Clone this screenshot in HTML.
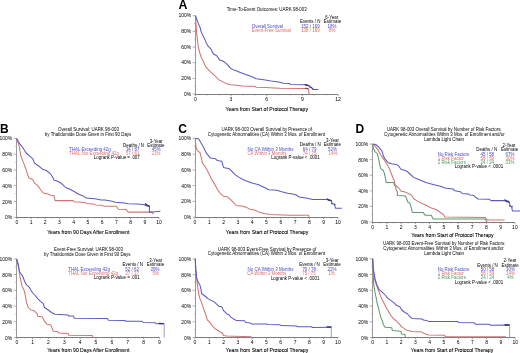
<!DOCTYPE html>
<html><head><meta charset="utf-8"><title>UARK 98-003 Kaplan-Meier curves</title>
<style>
html,body{margin:0;padding:0;background:#fff;width:520px;height:353px;overflow:hidden;}
#wrap{position:absolute;left:0;top:0;width:520px;height:353px;will-change:transform;background:#fff;filter:blur(0.3px);}
svg{display:block;font-family:"Liberation Sans",sans-serif;}
</style></head><body>
<div id="wrap"><svg width="520" height="353" viewBox="0 0 520 353">
<rect width="520" height="353" fill="#fff"/>
<text x="178.6" y="9" font-size="12.3" font-weight="bold" fill="#000">A</text>
<text x="0.0" y="133" font-size="12" font-weight="bold" fill="#000">B</text>
<text x="178.2" y="133" font-size="12" font-weight="bold" fill="#000">C</text>
<text x="355.4" y="133" font-size="12" font-weight="bold" fill="#000">D</text>
<line x1="195.50" y1="15.70" x2="195.50" y2="95.00" stroke="#9a9a9a" stroke-width="1"/>
<line x1="192.70" y1="94.00" x2="195.50" y2="94.00" stroke="#9a9a9a" stroke-width="0.8"/>
<text x="191.30" y="95.50" font-size="5.0" fill="#000" text-anchor="end">0%</text>
<line x1="194.10" y1="86.17" x2="195.50" y2="86.17" stroke="#9a9a9a" stroke-width="0.6"/>
<line x1="192.70" y1="78.34" x2="195.50" y2="78.34" stroke="#9a9a9a" stroke-width="0.8"/>
<text x="191.30" y="79.84" font-size="5.0" fill="#000" text-anchor="end">20%</text>
<line x1="194.10" y1="70.51" x2="195.50" y2="70.51" stroke="#9a9a9a" stroke-width="0.6"/>
<line x1="192.70" y1="62.68" x2="195.50" y2="62.68" stroke="#9a9a9a" stroke-width="0.8"/>
<text x="191.30" y="64.18" font-size="5.0" fill="#000" text-anchor="end">40%</text>
<line x1="194.10" y1="54.85" x2="195.50" y2="54.85" stroke="#9a9a9a" stroke-width="0.6"/>
<line x1="192.70" y1="47.02" x2="195.50" y2="47.02" stroke="#9a9a9a" stroke-width="0.8"/>
<text x="191.30" y="48.52" font-size="5.0" fill="#000" text-anchor="end">60%</text>
<line x1="194.10" y1="39.19" x2="195.50" y2="39.19" stroke="#9a9a9a" stroke-width="0.6"/>
<line x1="192.70" y1="31.36" x2="195.50" y2="31.36" stroke="#9a9a9a" stroke-width="0.8"/>
<text x="191.30" y="32.86" font-size="5.0" fill="#000" text-anchor="end">80%</text>
<line x1="194.10" y1="23.53" x2="195.50" y2="23.53" stroke="#9a9a9a" stroke-width="0.6"/>
<line x1="192.70" y1="15.70" x2="195.50" y2="15.70" stroke="#9a9a9a" stroke-width="0.8"/>
<text x="191.30" y="17.20" font-size="5.0" fill="#000" text-anchor="end">100%</text>
<line x1="195.00" y1="94.50" x2="338.10" y2="94.50" stroke="#7c7c7c" stroke-width="1"/>
<line x1="195.30" y1="94.50" x2="195.30" y2="96.10" stroke="#7c7c7c" stroke-width="0.7"/>
<text x="195.30" y="100.80" font-size="5.0" fill="#000" text-anchor="middle">0</text>
<line x1="231.00" y1="94.50" x2="231.00" y2="96.10" stroke="#7c7c7c" stroke-width="0.7"/>
<text x="231.00" y="100.80" font-size="5.0" fill="#000" text-anchor="middle">3</text>
<line x1="266.70" y1="94.50" x2="266.70" y2="96.10" stroke="#7c7c7c" stroke-width="0.7"/>
<text x="266.70" y="100.80" font-size="5.0" fill="#000" text-anchor="middle">6</text>
<line x1="302.40" y1="94.50" x2="302.40" y2="96.10" stroke="#7c7c7c" stroke-width="0.7"/>
<text x="302.40" y="100.80" font-size="5.0" fill="#000" text-anchor="middle">9</text>
<line x1="338.10" y1="94.50" x2="338.10" y2="96.10" stroke="#7c7c7c" stroke-width="0.7"/>
<text x="338.10" y="100.80" font-size="5.0" fill="#000" text-anchor="middle">12</text>
<line x1="207.20" y1="94.50" x2="207.20" y2="95.50" stroke="#7c7c7c" stroke-width="0.5"/>
<line x1="219.10" y1="94.50" x2="219.10" y2="95.50" stroke="#7c7c7c" stroke-width="0.5"/>
<line x1="242.90" y1="94.50" x2="242.90" y2="95.50" stroke="#7c7c7c" stroke-width="0.5"/>
<line x1="254.80" y1="94.50" x2="254.80" y2="95.50" stroke="#7c7c7c" stroke-width="0.5"/>
<line x1="278.60" y1="94.50" x2="278.60" y2="95.50" stroke="#7c7c7c" stroke-width="0.5"/>
<line x1="290.50" y1="94.50" x2="290.50" y2="95.50" stroke="#7c7c7c" stroke-width="0.5"/>
<line x1="314.30" y1="94.50" x2="314.30" y2="95.50" stroke="#7c7c7c" stroke-width="0.5"/>
<line x1="326.20" y1="94.50" x2="326.20" y2="95.50" stroke="#7c7c7c" stroke-width="0.5"/>
<text x="266.80" y="111.18" font-size="5.1" fill="#000" text-anchor="middle" stroke="#000" stroke-width="0.08">Years from Start of Protocol Therapy</text>
<text x="266.75" y="11.07" font-size="4.45" fill="#000" text-anchor="middle">Time-To-Event Outcomes: UARK 98-003</text>
<text x="331.80" y="18.57" font-size="4.45" fill="#000" text-anchor="middle">6-Year</text>
<text x="310.20" y="22.77" font-size="4.45" fill="#000" text-anchor="middle">Events / N</text>
<text x="332.50" y="22.77" font-size="4.45" fill="#000" text-anchor="middle">Estimate</text>
<text x="251.80" y="27.57" font-size="4.45" fill="#4848c8" text-anchor="start">Overall Survival</text>
<text x="310.40" y="27.57" font-size="4.45" fill="#4848c8" text-anchor="middle">152 / 169</text>
<text x="332.00" y="27.57" font-size="4.45" fill="#4848c8" text-anchor="middle">18%</text>
<text x="251.80" y="31.97" font-size="4.45" fill="#e06a6a" text-anchor="start">Event-Free Survival</text>
<text x="310.40" y="31.97" font-size="4.45" fill="#e06a6a" text-anchor="middle">138 / 169</text>
<text x="332.30" y="31.97" font-size="4.45" fill="#e06a6a" text-anchor="middle">8%</text>
<line x1="16.50" y1="138.40" x2="16.50" y2="218.00" stroke="#9a9a9a" stroke-width="1"/>
<line x1="13.70" y1="217.30" x2="16.50" y2="217.30" stroke="#9a9a9a" stroke-width="0.8"/>
<text x="12.30" y="219.30" font-size="5.0" fill="#000" text-anchor="end">0%</text>
<line x1="15.10" y1="209.41" x2="16.50" y2="209.41" stroke="#9a9a9a" stroke-width="0.6"/>
<line x1="13.70" y1="201.52" x2="16.50" y2="201.52" stroke="#9a9a9a" stroke-width="0.8"/>
<text x="12.30" y="203.52" font-size="5.0" fill="#000" text-anchor="end">20%</text>
<line x1="15.10" y1="193.63" x2="16.50" y2="193.63" stroke="#9a9a9a" stroke-width="0.6"/>
<line x1="13.70" y1="185.74" x2="16.50" y2="185.74" stroke="#9a9a9a" stroke-width="0.8"/>
<text x="12.30" y="187.74" font-size="5.0" fill="#000" text-anchor="end">40%</text>
<line x1="15.10" y1="177.85" x2="16.50" y2="177.85" stroke="#9a9a9a" stroke-width="0.6"/>
<line x1="13.70" y1="169.96" x2="16.50" y2="169.96" stroke="#9a9a9a" stroke-width="0.8"/>
<text x="12.30" y="171.96" font-size="5.0" fill="#000" text-anchor="end">60%</text>
<line x1="15.10" y1="162.07" x2="16.50" y2="162.07" stroke="#9a9a9a" stroke-width="0.6"/>
<line x1="13.70" y1="154.18" x2="16.50" y2="154.18" stroke="#9a9a9a" stroke-width="0.8"/>
<text x="12.30" y="156.18" font-size="5.0" fill="#000" text-anchor="end">80%</text>
<line x1="15.10" y1="146.29" x2="16.50" y2="146.29" stroke="#9a9a9a" stroke-width="0.6"/>
<line x1="13.70" y1="138.40" x2="16.50" y2="138.40" stroke="#9a9a9a" stroke-width="0.8"/>
<text x="12.30" y="140.40" font-size="5.0" fill="#000" text-anchor="end">100%</text>
<line x1="16.00" y1="217.50" x2="159.00" y2="217.50" stroke="#7c7c7c" stroke-width="1"/>
<line x1="16.80" y1="217.50" x2="16.80" y2="219.10" stroke="#7c7c7c" stroke-width="0.7"/>
<text x="16.80" y="224.20" font-size="5.0" fill="#000" text-anchor="middle">0</text>
<line x1="31.02" y1="217.50" x2="31.02" y2="219.10" stroke="#7c7c7c" stroke-width="0.7"/>
<text x="31.02" y="224.20" font-size="5.0" fill="#000" text-anchor="middle">1</text>
<line x1="45.24" y1="217.50" x2="45.24" y2="219.10" stroke="#7c7c7c" stroke-width="0.7"/>
<text x="45.24" y="224.20" font-size="5.0" fill="#000" text-anchor="middle">2</text>
<line x1="59.46" y1="217.50" x2="59.46" y2="219.10" stroke="#7c7c7c" stroke-width="0.7"/>
<text x="59.46" y="224.20" font-size="5.0" fill="#000" text-anchor="middle">3</text>
<line x1="73.68" y1="217.50" x2="73.68" y2="219.10" stroke="#7c7c7c" stroke-width="0.7"/>
<text x="73.68" y="224.20" font-size="5.0" fill="#000" text-anchor="middle">4</text>
<line x1="87.90" y1="217.50" x2="87.90" y2="219.10" stroke="#7c7c7c" stroke-width="0.7"/>
<text x="87.90" y="224.20" font-size="5.0" fill="#000" text-anchor="middle">5</text>
<line x1="102.12" y1="217.50" x2="102.12" y2="219.10" stroke="#7c7c7c" stroke-width="0.7"/>
<text x="102.12" y="224.20" font-size="5.0" fill="#000" text-anchor="middle">6</text>
<line x1="116.34" y1="217.50" x2="116.34" y2="219.10" stroke="#7c7c7c" stroke-width="0.7"/>
<text x="116.34" y="224.20" font-size="5.0" fill="#000" text-anchor="middle">7</text>
<line x1="130.56" y1="217.50" x2="130.56" y2="219.10" stroke="#7c7c7c" stroke-width="0.7"/>
<text x="130.56" y="224.20" font-size="5.0" fill="#000" text-anchor="middle">8</text>
<line x1="144.78" y1="217.50" x2="144.78" y2="219.10" stroke="#7c7c7c" stroke-width="0.7"/>
<text x="144.78" y="224.20" font-size="5.0" fill="#000" text-anchor="middle">9</text>
<line x1="159.00" y1="217.50" x2="159.00" y2="219.10" stroke="#7c7c7c" stroke-width="0.7"/>
<text x="159.00" y="224.20" font-size="5.0" fill="#000" text-anchor="middle">10</text>
<line x1="23.91" y1="217.50" x2="23.91" y2="218.50" stroke="#7c7c7c" stroke-width="0.5"/>
<line x1="38.13" y1="217.50" x2="38.13" y2="218.50" stroke="#7c7c7c" stroke-width="0.5"/>
<line x1="52.35" y1="217.50" x2="52.35" y2="218.50" stroke="#7c7c7c" stroke-width="0.5"/>
<line x1="66.57" y1="217.50" x2="66.57" y2="218.50" stroke="#7c7c7c" stroke-width="0.5"/>
<line x1="80.79" y1="217.50" x2="80.79" y2="218.50" stroke="#7c7c7c" stroke-width="0.5"/>
<line x1="95.01" y1="217.50" x2="95.01" y2="218.50" stroke="#7c7c7c" stroke-width="0.5"/>
<line x1="109.23" y1="217.50" x2="109.23" y2="218.50" stroke="#7c7c7c" stroke-width="0.5"/>
<line x1="123.45" y1="217.50" x2="123.45" y2="218.50" stroke="#7c7c7c" stroke-width="0.5"/>
<line x1="137.67" y1="217.50" x2="137.67" y2="218.50" stroke="#7c7c7c" stroke-width="0.5"/>
<line x1="151.89" y1="217.50" x2="151.89" y2="218.50" stroke="#7c7c7c" stroke-width="0.5"/>
<text x="88.30" y="233.88" font-size="5.1" fill="#000" text-anchor="middle" stroke="#000" stroke-width="0.08">Years from 90 Days After Enrollment</text>
<text x="88.40" y="131.27" font-size="4.45" fill="#000" text-anchor="middle">Overall Survival: UARK 98-003</text>
<text x="88.05" y="136.07" font-size="4.45" fill="#000" text-anchor="middle">by Thalidomide Dose Given in First 90 Days</text>
<text x="156.20" y="142.57" font-size="4.45" fill="#000" text-anchor="middle">3-Year</text>
<text x="133.60" y="146.77" font-size="4.45" fill="#000" text-anchor="middle">Deaths / N</text>
<text x="155.90" y="146.77" font-size="4.45" fill="#000" text-anchor="middle">Estimate</text>
<text x="69.00" y="150.87" font-size="4.45" fill="#4848c8" text-anchor="start">THAL Exceeding 42g</text>
<text x="132.70" y="151.37" font-size="4.45" fill="#4848c8" text-anchor="middle">34 / 87</text>
<text x="156.30" y="151.37" font-size="4.45" fill="#4848c8" text-anchor="middle">45%</text>
<text x="69.00" y="155.37" font-size="4.45" fill="#e06a6a" text-anchor="start">THAL Not Exceeding 42g</text>
<text x="132.70" y="155.27" font-size="4.45" fill="#e06a6a" text-anchor="middle">57 / 61</text>
<text x="156.00" y="155.27" font-size="4.45" fill="#e06a6a" text-anchor="middle">21%</text>
<text x="93.80" y="159.27" font-size="4.45" fill="#000" text-anchor="start">Logrank P-value = .007</text>
<line x1="16.50" y1="258.90" x2="16.50" y2="338.00" stroke="#9a9a9a" stroke-width="1"/>
<line x1="13.70" y1="337.50" x2="16.50" y2="337.50" stroke="#9a9a9a" stroke-width="0.8"/>
<text x="12.30" y="339.50" font-size="5.0" fill="#000" text-anchor="end">0%</text>
<line x1="15.10" y1="329.64" x2="16.50" y2="329.64" stroke="#9a9a9a" stroke-width="0.6"/>
<line x1="13.70" y1="321.78" x2="16.50" y2="321.78" stroke="#9a9a9a" stroke-width="0.8"/>
<text x="12.30" y="323.78" font-size="5.0" fill="#000" text-anchor="end">20%</text>
<line x1="15.10" y1="313.92" x2="16.50" y2="313.92" stroke="#9a9a9a" stroke-width="0.6"/>
<line x1="13.70" y1="306.06" x2="16.50" y2="306.06" stroke="#9a9a9a" stroke-width="0.8"/>
<text x="12.30" y="308.06" font-size="5.0" fill="#000" text-anchor="end">40%</text>
<line x1="15.10" y1="298.20" x2="16.50" y2="298.20" stroke="#9a9a9a" stroke-width="0.6"/>
<line x1="13.70" y1="290.34" x2="16.50" y2="290.34" stroke="#9a9a9a" stroke-width="0.8"/>
<text x="12.30" y="292.34" font-size="5.0" fill="#000" text-anchor="end">60%</text>
<line x1="15.10" y1="282.48" x2="16.50" y2="282.48" stroke="#9a9a9a" stroke-width="0.6"/>
<line x1="13.70" y1="274.62" x2="16.50" y2="274.62" stroke="#9a9a9a" stroke-width="0.8"/>
<text x="12.30" y="276.62" font-size="5.0" fill="#000" text-anchor="end">80%</text>
<line x1="15.10" y1="266.76" x2="16.50" y2="266.76" stroke="#9a9a9a" stroke-width="0.6"/>
<line x1="13.70" y1="258.90" x2="16.50" y2="258.90" stroke="#9a9a9a" stroke-width="0.8"/>
<text x="12.30" y="260.90" font-size="5.0" fill="#000" text-anchor="end">100%</text>
<line x1="16.00" y1="337.50" x2="159.36" y2="337.50" stroke="#7c7c7c" stroke-width="1"/>
<line x1="16.80" y1="337.50" x2="16.80" y2="339.10" stroke="#7c7c7c" stroke-width="0.7"/>
<text x="16.80" y="344.40" font-size="5.0" fill="#000" text-anchor="middle">0</text>
<line x1="32.64" y1="337.50" x2="32.64" y2="339.10" stroke="#7c7c7c" stroke-width="0.7"/>
<text x="32.64" y="344.40" font-size="5.0" fill="#000" text-anchor="middle">1</text>
<line x1="48.48" y1="337.50" x2="48.48" y2="339.10" stroke="#7c7c7c" stroke-width="0.7"/>
<text x="48.48" y="344.40" font-size="5.0" fill="#000" text-anchor="middle">2</text>
<line x1="64.32" y1="337.50" x2="64.32" y2="339.10" stroke="#7c7c7c" stroke-width="0.7"/>
<text x="64.32" y="344.40" font-size="5.0" fill="#000" text-anchor="middle">3</text>
<line x1="80.16" y1="337.50" x2="80.16" y2="339.10" stroke="#7c7c7c" stroke-width="0.7"/>
<text x="80.16" y="344.40" font-size="5.0" fill="#000" text-anchor="middle">4</text>
<line x1="96.00" y1="337.50" x2="96.00" y2="339.10" stroke="#7c7c7c" stroke-width="0.7"/>
<text x="96.00" y="344.40" font-size="5.0" fill="#000" text-anchor="middle">5</text>
<line x1="111.84" y1="337.50" x2="111.84" y2="339.10" stroke="#7c7c7c" stroke-width="0.7"/>
<text x="111.84" y="344.40" font-size="5.0" fill="#000" text-anchor="middle">6</text>
<line x1="127.68" y1="337.50" x2="127.68" y2="339.10" stroke="#7c7c7c" stroke-width="0.7"/>
<text x="127.68" y="344.40" font-size="5.0" fill="#000" text-anchor="middle">7</text>
<line x1="143.52" y1="337.50" x2="143.52" y2="339.10" stroke="#7c7c7c" stroke-width="0.7"/>
<text x="143.52" y="344.40" font-size="5.0" fill="#000" text-anchor="middle">8</text>
<line x1="159.36" y1="337.50" x2="159.36" y2="339.10" stroke="#7c7c7c" stroke-width="0.7"/>
<text x="159.36" y="344.40" font-size="5.0" fill="#000" text-anchor="middle">9</text>
<line x1="24.72" y1="337.50" x2="24.72" y2="338.50" stroke="#7c7c7c" stroke-width="0.5"/>
<line x1="40.56" y1="337.50" x2="40.56" y2="338.50" stroke="#7c7c7c" stroke-width="0.5"/>
<line x1="56.40" y1="337.50" x2="56.40" y2="338.50" stroke="#7c7c7c" stroke-width="0.5"/>
<line x1="72.24" y1="337.50" x2="72.24" y2="338.50" stroke="#7c7c7c" stroke-width="0.5"/>
<line x1="88.08" y1="337.50" x2="88.08" y2="338.50" stroke="#7c7c7c" stroke-width="0.5"/>
<line x1="103.92" y1="337.50" x2="103.92" y2="338.50" stroke="#7c7c7c" stroke-width="0.5"/>
<line x1="119.76" y1="337.50" x2="119.76" y2="338.50" stroke="#7c7c7c" stroke-width="0.5"/>
<line x1="135.60" y1="337.50" x2="135.60" y2="338.50" stroke="#7c7c7c" stroke-width="0.5"/>
<line x1="151.44" y1="337.50" x2="151.44" y2="338.50" stroke="#7c7c7c" stroke-width="0.5"/>
<text x="88.30" y="352.18" font-size="5.1" fill="#000" text-anchor="middle" stroke="#000" stroke-width="0.08">Years from 90 Days After Enrollment</text>
<text x="88.50" y="251.42" font-size="4.45" fill="#000" text-anchor="middle">Event-Free Survival: UARK 98-003</text>
<text x="87.25" y="255.92" font-size="4.45" fill="#000" text-anchor="middle">by Thalidomide Dose Given in First 90 Days</text>
<text x="155.80" y="262.27" font-size="4.45" fill="#000" text-anchor="middle">3-Year</text>
<text x="132.80" y="266.47" font-size="4.45" fill="#000" text-anchor="middle">Events / N</text>
<text x="155.50" y="266.47" font-size="4.45" fill="#000" text-anchor="middle">Estimate</text>
<text x="68.20" y="270.77" font-size="4.45" fill="#4848c8" text-anchor="start">THAL Exceeding 42g</text>
<text x="132.10" y="271.27" font-size="4.45" fill="#4848c8" text-anchor="middle">52 / 62</text>
<text x="155.10" y="271.27" font-size="4.45" fill="#4848c8" text-anchor="middle">29%</text>
<text x="68.20" y="275.47" font-size="4.45" fill="#e06a6a" text-anchor="start">THAL Not Exceeding 42g</text>
<text x="132.10" y="275.37" font-size="4.45" fill="#e06a6a" text-anchor="middle">37 / 37</text>
<text x="155.80" y="275.37" font-size="4.45" fill="#e06a6a" text-anchor="middle">5%</text>
<text x="93.70" y="279.47" font-size="4.45" fill="#000" text-anchor="start">Logrank P-value = .001</text>
<line x1="195.50" y1="138.40" x2="195.50" y2="218.00" stroke="#9a9a9a" stroke-width="1"/>
<line x1="192.70" y1="217.20" x2="195.50" y2="217.20" stroke="#9a9a9a" stroke-width="0.8"/>
<text x="191.30" y="219.20" font-size="5.0" fill="#000" text-anchor="end">0%</text>
<line x1="194.10" y1="209.32" x2="195.50" y2="209.32" stroke="#9a9a9a" stroke-width="0.6"/>
<line x1="192.70" y1="201.44" x2="195.50" y2="201.44" stroke="#9a9a9a" stroke-width="0.8"/>
<text x="191.30" y="203.44" font-size="5.0" fill="#000" text-anchor="end">20%</text>
<line x1="194.10" y1="193.56" x2="195.50" y2="193.56" stroke="#9a9a9a" stroke-width="0.6"/>
<line x1="192.70" y1="185.68" x2="195.50" y2="185.68" stroke="#9a9a9a" stroke-width="0.8"/>
<text x="191.30" y="187.68" font-size="5.0" fill="#000" text-anchor="end">40%</text>
<line x1="194.10" y1="177.80" x2="195.50" y2="177.80" stroke="#9a9a9a" stroke-width="0.6"/>
<line x1="192.70" y1="169.92" x2="195.50" y2="169.92" stroke="#9a9a9a" stroke-width="0.8"/>
<text x="191.30" y="171.92" font-size="5.0" fill="#000" text-anchor="end">60%</text>
<line x1="194.10" y1="162.04" x2="195.50" y2="162.04" stroke="#9a9a9a" stroke-width="0.6"/>
<line x1="192.70" y1="154.16" x2="195.50" y2="154.16" stroke="#9a9a9a" stroke-width="0.8"/>
<text x="191.30" y="156.16" font-size="5.0" fill="#000" text-anchor="end">80%</text>
<line x1="194.10" y1="146.28" x2="195.50" y2="146.28" stroke="#9a9a9a" stroke-width="0.6"/>
<line x1="192.70" y1="138.40" x2="195.50" y2="138.40" stroke="#9a9a9a" stroke-width="0.8"/>
<text x="191.30" y="140.40" font-size="5.0" fill="#000" text-anchor="end">100%</text>
<line x1="195.00" y1="217.50" x2="338.00" y2="217.50" stroke="#7c7c7c" stroke-width="1"/>
<line x1="195.00" y1="217.50" x2="195.00" y2="219.10" stroke="#7c7c7c" stroke-width="0.7"/>
<text x="195.00" y="224.20" font-size="5.0" fill="#000" text-anchor="middle">0</text>
<line x1="209.30" y1="217.50" x2="209.30" y2="219.10" stroke="#7c7c7c" stroke-width="0.7"/>
<text x="209.30" y="224.20" font-size="5.0" fill="#000" text-anchor="middle">1</text>
<line x1="223.60" y1="217.50" x2="223.60" y2="219.10" stroke="#7c7c7c" stroke-width="0.7"/>
<text x="223.60" y="224.20" font-size="5.0" fill="#000" text-anchor="middle">2</text>
<line x1="237.90" y1="217.50" x2="237.90" y2="219.10" stroke="#7c7c7c" stroke-width="0.7"/>
<text x="237.90" y="224.20" font-size="5.0" fill="#000" text-anchor="middle">3</text>
<line x1="252.20" y1="217.50" x2="252.20" y2="219.10" stroke="#7c7c7c" stroke-width="0.7"/>
<text x="252.20" y="224.20" font-size="5.0" fill="#000" text-anchor="middle">4</text>
<line x1="266.50" y1="217.50" x2="266.50" y2="219.10" stroke="#7c7c7c" stroke-width="0.7"/>
<text x="266.50" y="224.20" font-size="5.0" fill="#000" text-anchor="middle">5</text>
<line x1="280.80" y1="217.50" x2="280.80" y2="219.10" stroke="#7c7c7c" stroke-width="0.7"/>
<text x="280.80" y="224.20" font-size="5.0" fill="#000" text-anchor="middle">6</text>
<line x1="295.10" y1="217.50" x2="295.10" y2="219.10" stroke="#7c7c7c" stroke-width="0.7"/>
<text x="295.10" y="224.20" font-size="5.0" fill="#000" text-anchor="middle">7</text>
<line x1="309.40" y1="217.50" x2="309.40" y2="219.10" stroke="#7c7c7c" stroke-width="0.7"/>
<text x="309.40" y="224.20" font-size="5.0" fill="#000" text-anchor="middle">8</text>
<line x1="323.70" y1="217.50" x2="323.70" y2="219.10" stroke="#7c7c7c" stroke-width="0.7"/>
<text x="323.70" y="224.20" font-size="5.0" fill="#000" text-anchor="middle">9</text>
<line x1="338.00" y1="217.50" x2="338.00" y2="219.10" stroke="#7c7c7c" stroke-width="0.7"/>
<text x="338.00" y="224.20" font-size="5.0" fill="#000" text-anchor="middle">10</text>
<line x1="202.15" y1="217.50" x2="202.15" y2="218.50" stroke="#7c7c7c" stroke-width="0.5"/>
<line x1="216.45" y1="217.50" x2="216.45" y2="218.50" stroke="#7c7c7c" stroke-width="0.5"/>
<line x1="230.75" y1="217.50" x2="230.75" y2="218.50" stroke="#7c7c7c" stroke-width="0.5"/>
<line x1="245.05" y1="217.50" x2="245.05" y2="218.50" stroke="#7c7c7c" stroke-width="0.5"/>
<line x1="259.35" y1="217.50" x2="259.35" y2="218.50" stroke="#7c7c7c" stroke-width="0.5"/>
<line x1="273.65" y1="217.50" x2="273.65" y2="218.50" stroke="#7c7c7c" stroke-width="0.5"/>
<line x1="287.95" y1="217.50" x2="287.95" y2="218.50" stroke="#7c7c7c" stroke-width="0.5"/>
<line x1="302.25" y1="217.50" x2="302.25" y2="218.50" stroke="#7c7c7c" stroke-width="0.5"/>
<line x1="316.55" y1="217.50" x2="316.55" y2="218.50" stroke="#7c7c7c" stroke-width="0.5"/>
<line x1="330.85" y1="217.50" x2="330.85" y2="218.50" stroke="#7c7c7c" stroke-width="0.5"/>
<text x="267.00" y="233.88" font-size="5.1" fill="#000" text-anchor="middle" stroke="#000" stroke-width="0.08">Years from Start of Protocol Therapy</text>
<text x="266.80" y="130.97" font-size="4.45" fill="#000" text-anchor="middle">UARK 98-003 Overall Survival by Presence of</text>
<text x="266.40" y="135.67" font-size="4.45" fill="#000" text-anchor="middle">Cytogenetic Abnormalities (CA) Within 3 Mos. of Enrollment</text>
<text x="332.50" y="141.57" font-size="4.45" fill="#000" text-anchor="middle">3-Year</text>
<text x="310.30" y="146.27" font-size="4.45" fill="#000" text-anchor="middle">Deaths / N</text>
<text x="332.30" y="146.27" font-size="4.45" fill="#000" text-anchor="middle">Estimate</text>
<text x="247.60" y="150.77" font-size="4.45" fill="#4848c8" text-anchor="start">No CA Within 3 Months</text>
<text x="309.60" y="150.77" font-size="4.45" fill="#4848c8" text-anchor="middle">64 / 79</text>
<text x="332.40" y="150.77" font-size="4.45" fill="#4848c8" text-anchor="middle">52%</text>
<text x="247.40" y="154.67" font-size="4.45" fill="#e06a6a" text-anchor="start">CA Within 3 Months</text>
<text x="309.60" y="154.57" font-size="4.45" fill="#e06a6a" text-anchor="middle">74 / 75</text>
<text x="332.90" y="154.57" font-size="4.45" fill="#e06a6a" text-anchor="middle">14%</text>
<text x="271.30" y="158.87" font-size="4.45" fill="#000" text-anchor="start">Logrank P-value &lt; .0001</text>
<line x1="195.50" y1="258.90" x2="195.50" y2="338.00" stroke="#9a9a9a" stroke-width="1"/>
<line x1="192.70" y1="337.50" x2="195.50" y2="337.50" stroke="#9a9a9a" stroke-width="0.8"/>
<text x="191.30" y="339.50" font-size="5.0" fill="#000" text-anchor="end">0%</text>
<line x1="194.10" y1="329.64" x2="195.50" y2="329.64" stroke="#9a9a9a" stroke-width="0.6"/>
<line x1="192.70" y1="321.78" x2="195.50" y2="321.78" stroke="#9a9a9a" stroke-width="0.8"/>
<text x="191.30" y="323.78" font-size="5.0" fill="#000" text-anchor="end">20%</text>
<line x1="194.10" y1="313.92" x2="195.50" y2="313.92" stroke="#9a9a9a" stroke-width="0.6"/>
<line x1="192.70" y1="306.06" x2="195.50" y2="306.06" stroke="#9a9a9a" stroke-width="0.8"/>
<text x="191.30" y="308.06" font-size="5.0" fill="#000" text-anchor="end">40%</text>
<line x1="194.10" y1="298.20" x2="195.50" y2="298.20" stroke="#9a9a9a" stroke-width="0.6"/>
<line x1="192.70" y1="290.34" x2="195.50" y2="290.34" stroke="#9a9a9a" stroke-width="0.8"/>
<text x="191.30" y="292.34" font-size="5.0" fill="#000" text-anchor="end">60%</text>
<line x1="194.10" y1="282.48" x2="195.50" y2="282.48" stroke="#9a9a9a" stroke-width="0.6"/>
<line x1="192.70" y1="274.62" x2="195.50" y2="274.62" stroke="#9a9a9a" stroke-width="0.8"/>
<text x="191.30" y="276.62" font-size="5.0" fill="#000" text-anchor="end">80%</text>
<line x1="194.10" y1="266.76" x2="195.50" y2="266.76" stroke="#9a9a9a" stroke-width="0.6"/>
<line x1="192.70" y1="258.90" x2="195.50" y2="258.90" stroke="#9a9a9a" stroke-width="0.8"/>
<text x="191.30" y="260.90" font-size="5.0" fill="#000" text-anchor="end">100%</text>
<line x1="195.00" y1="337.50" x2="337.90" y2="337.50" stroke="#7c7c7c" stroke-width="1"/>
<line x1="195.00" y1="337.50" x2="195.00" y2="339.10" stroke="#7c7c7c" stroke-width="0.7"/>
<text x="195.00" y="344.30" font-size="5.0" fill="#000" text-anchor="middle">0</text>
<line x1="209.29" y1="337.50" x2="209.29" y2="339.10" stroke="#7c7c7c" stroke-width="0.7"/>
<text x="209.29" y="344.30" font-size="5.0" fill="#000" text-anchor="middle">1</text>
<line x1="223.58" y1="337.50" x2="223.58" y2="339.10" stroke="#7c7c7c" stroke-width="0.7"/>
<text x="223.58" y="344.30" font-size="5.0" fill="#000" text-anchor="middle">2</text>
<line x1="237.87" y1="337.50" x2="237.87" y2="339.10" stroke="#7c7c7c" stroke-width="0.7"/>
<text x="237.87" y="344.30" font-size="5.0" fill="#000" text-anchor="middle">3</text>
<line x1="252.16" y1="337.50" x2="252.16" y2="339.10" stroke="#7c7c7c" stroke-width="0.7"/>
<text x="252.16" y="344.30" font-size="5.0" fill="#000" text-anchor="middle">4</text>
<line x1="266.45" y1="337.50" x2="266.45" y2="339.10" stroke="#7c7c7c" stroke-width="0.7"/>
<text x="266.45" y="344.30" font-size="5.0" fill="#000" text-anchor="middle">5</text>
<line x1="280.74" y1="337.50" x2="280.74" y2="339.10" stroke="#7c7c7c" stroke-width="0.7"/>
<text x="280.74" y="344.30" font-size="5.0" fill="#000" text-anchor="middle">6</text>
<line x1="295.03" y1="337.50" x2="295.03" y2="339.10" stroke="#7c7c7c" stroke-width="0.7"/>
<text x="295.03" y="344.30" font-size="5.0" fill="#000" text-anchor="middle">7</text>
<line x1="309.32" y1="337.50" x2="309.32" y2="339.10" stroke="#7c7c7c" stroke-width="0.7"/>
<text x="309.32" y="344.30" font-size="5.0" fill="#000" text-anchor="middle">8</text>
<line x1="323.61" y1="337.50" x2="323.61" y2="339.10" stroke="#7c7c7c" stroke-width="0.7"/>
<text x="323.61" y="344.30" font-size="5.0" fill="#000" text-anchor="middle">9</text>
<line x1="337.90" y1="337.50" x2="337.90" y2="339.10" stroke="#7c7c7c" stroke-width="0.7"/>
<text x="337.90" y="344.30" font-size="5.0" fill="#000" text-anchor="middle">10</text>
<line x1="202.15" y1="337.50" x2="202.15" y2="338.50" stroke="#7c7c7c" stroke-width="0.5"/>
<line x1="216.44" y1="337.50" x2="216.44" y2="338.50" stroke="#7c7c7c" stroke-width="0.5"/>
<line x1="230.72" y1="337.50" x2="230.72" y2="338.50" stroke="#7c7c7c" stroke-width="0.5"/>
<line x1="245.01" y1="337.50" x2="245.01" y2="338.50" stroke="#7c7c7c" stroke-width="0.5"/>
<line x1="259.31" y1="337.50" x2="259.31" y2="338.50" stroke="#7c7c7c" stroke-width="0.5"/>
<line x1="273.60" y1="337.50" x2="273.60" y2="338.50" stroke="#7c7c7c" stroke-width="0.5"/>
<line x1="287.88" y1="337.50" x2="287.88" y2="338.50" stroke="#7c7c7c" stroke-width="0.5"/>
<line x1="302.18" y1="337.50" x2="302.18" y2="338.50" stroke="#7c7c7c" stroke-width="0.5"/>
<line x1="316.46" y1="337.50" x2="316.46" y2="338.50" stroke="#7c7c7c" stroke-width="0.5"/>
<line x1="330.75" y1="337.50" x2="330.75" y2="338.50" stroke="#7c7c7c" stroke-width="0.5"/>
<text x="267.00" y="352.18" font-size="5.1" fill="#000" text-anchor="middle" stroke="#000" stroke-width="0.08">Years from Start of Protocol Therapy</text>
<text x="267.10" y="251.07" font-size="4.45" fill="#000" text-anchor="middle">UARK 98-003 Event-Free Survival by Presence of</text>
<text x="266.35" y="255.47" font-size="4.45" fill="#000" text-anchor="middle">Cytogenetic Abnormalities (CA) Within 3 Mos. of Enrollment</text>
<text x="332.30" y="262.27" font-size="4.45" fill="#000" text-anchor="middle">3-Year</text>
<text x="309.60" y="266.37" font-size="4.45" fill="#000" text-anchor="middle">Events / N</text>
<text x="332.00" y="266.37" font-size="4.45" fill="#000" text-anchor="middle">Estimate</text>
<text x="247.60" y="270.97" font-size="4.45" fill="#4848c8" text-anchor="start">No CA Within 3 Months</text>
<text x="309.20" y="270.97" font-size="4.45" fill="#4848c8" text-anchor="middle">70 / 78</text>
<text x="332.00" y="270.97" font-size="4.45" fill="#4848c8" text-anchor="middle">22%</text>
<text x="247.20" y="275.47" font-size="4.45" fill="#e06a6a" text-anchor="start">CA Within 3 Months</text>
<text x="309.00" y="275.07" font-size="4.45" fill="#e06a6a" text-anchor="middle">75 / 75</text>
<text x="331.60" y="275.07" font-size="4.45" fill="#e06a6a" text-anchor="middle">1%</text>
<text x="270.90" y="279.57" font-size="4.45" fill="#000" text-anchor="start">Logrank P-value &lt; .0001</text>
<line x1="372.50" y1="144.00" x2="372.50" y2="223.00" stroke="#9a9a9a" stroke-width="1"/>
<line x1="369.70" y1="222.10" x2="372.50" y2="222.10" stroke="#9a9a9a" stroke-width="0.8"/>
<text x="368.30" y="224.10" font-size="5.0" fill="#000" text-anchor="end">0%</text>
<line x1="371.10" y1="214.29" x2="372.50" y2="214.29" stroke="#9a9a9a" stroke-width="0.6"/>
<line x1="369.70" y1="206.48" x2="372.50" y2="206.48" stroke="#9a9a9a" stroke-width="0.8"/>
<text x="368.30" y="208.48" font-size="5.0" fill="#000" text-anchor="end">20%</text>
<line x1="371.10" y1="198.67" x2="372.50" y2="198.67" stroke="#9a9a9a" stroke-width="0.6"/>
<line x1="369.70" y1="190.86" x2="372.50" y2="190.86" stroke="#9a9a9a" stroke-width="0.8"/>
<text x="368.30" y="192.86" font-size="5.0" fill="#000" text-anchor="end">40%</text>
<line x1="371.10" y1="183.05" x2="372.50" y2="183.05" stroke="#9a9a9a" stroke-width="0.6"/>
<line x1="369.70" y1="175.24" x2="372.50" y2="175.24" stroke="#9a9a9a" stroke-width="0.8"/>
<text x="368.30" y="177.24" font-size="5.0" fill="#000" text-anchor="end">60%</text>
<line x1="371.10" y1="167.43" x2="372.50" y2="167.43" stroke="#9a9a9a" stroke-width="0.6"/>
<line x1="369.70" y1="159.62" x2="372.50" y2="159.62" stroke="#9a9a9a" stroke-width="0.8"/>
<text x="368.30" y="161.62" font-size="5.0" fill="#000" text-anchor="end">80%</text>
<line x1="371.10" y1="151.81" x2="372.50" y2="151.81" stroke="#9a9a9a" stroke-width="0.6"/>
<line x1="369.70" y1="144.00" x2="372.50" y2="144.00" stroke="#9a9a9a" stroke-width="0.8"/>
<text x="368.30" y="146.00" font-size="5.0" fill="#000" text-anchor="end">100%</text>
<line x1="372.00" y1="222.50" x2="514.90" y2="222.50" stroke="#7c7c7c" stroke-width="1"/>
<line x1="372.70" y1="222.50" x2="372.70" y2="224.10" stroke="#7c7c7c" stroke-width="0.7"/>
<text x="372.70" y="229.10" font-size="5.0" fill="#000" text-anchor="middle">0</text>
<line x1="386.92" y1="222.50" x2="386.92" y2="224.10" stroke="#7c7c7c" stroke-width="0.7"/>
<text x="386.92" y="229.10" font-size="5.0" fill="#000" text-anchor="middle">1</text>
<line x1="401.14" y1="222.50" x2="401.14" y2="224.10" stroke="#7c7c7c" stroke-width="0.7"/>
<text x="401.14" y="229.10" font-size="5.0" fill="#000" text-anchor="middle">2</text>
<line x1="415.36" y1="222.50" x2="415.36" y2="224.10" stroke="#7c7c7c" stroke-width="0.7"/>
<text x="415.36" y="229.10" font-size="5.0" fill="#000" text-anchor="middle">3</text>
<line x1="429.58" y1="222.50" x2="429.58" y2="224.10" stroke="#7c7c7c" stroke-width="0.7"/>
<text x="429.58" y="229.10" font-size="5.0" fill="#000" text-anchor="middle">4</text>
<line x1="443.80" y1="222.50" x2="443.80" y2="224.10" stroke="#7c7c7c" stroke-width="0.7"/>
<text x="443.80" y="229.10" font-size="5.0" fill="#000" text-anchor="middle">5</text>
<line x1="458.02" y1="222.50" x2="458.02" y2="224.10" stroke="#7c7c7c" stroke-width="0.7"/>
<text x="458.02" y="229.10" font-size="5.0" fill="#000" text-anchor="middle">6</text>
<line x1="472.24" y1="222.50" x2="472.24" y2="224.10" stroke="#7c7c7c" stroke-width="0.7"/>
<text x="472.24" y="229.10" font-size="5.0" fill="#000" text-anchor="middle">7</text>
<line x1="486.46" y1="222.50" x2="486.46" y2="224.10" stroke="#7c7c7c" stroke-width="0.7"/>
<text x="486.46" y="229.10" font-size="5.0" fill="#000" text-anchor="middle">8</text>
<line x1="500.68" y1="222.50" x2="500.68" y2="224.10" stroke="#7c7c7c" stroke-width="0.7"/>
<text x="500.68" y="229.10" font-size="5.0" fill="#000" text-anchor="middle">9</text>
<line x1="514.90" y1="222.50" x2="514.90" y2="224.10" stroke="#7c7c7c" stroke-width="0.7"/>
<text x="514.90" y="229.10" font-size="5.0" fill="#000" text-anchor="middle">10</text>
<line x1="379.81" y1="222.50" x2="379.81" y2="223.50" stroke="#7c7c7c" stroke-width="0.5"/>
<line x1="394.03" y1="222.50" x2="394.03" y2="223.50" stroke="#7c7c7c" stroke-width="0.5"/>
<line x1="408.25" y1="222.50" x2="408.25" y2="223.50" stroke="#7c7c7c" stroke-width="0.5"/>
<line x1="422.47" y1="222.50" x2="422.47" y2="223.50" stroke="#7c7c7c" stroke-width="0.5"/>
<line x1="436.69" y1="222.50" x2="436.69" y2="223.50" stroke="#7c7c7c" stroke-width="0.5"/>
<line x1="450.91" y1="222.50" x2="450.91" y2="223.50" stroke="#7c7c7c" stroke-width="0.5"/>
<line x1="465.13" y1="222.50" x2="465.13" y2="223.50" stroke="#7c7c7c" stroke-width="0.5"/>
<line x1="479.35" y1="222.50" x2="479.35" y2="223.50" stroke="#7c7c7c" stroke-width="0.5"/>
<line x1="493.57" y1="222.50" x2="493.57" y2="223.50" stroke="#7c7c7c" stroke-width="0.5"/>
<line x1="507.79" y1="222.50" x2="507.79" y2="223.50" stroke="#7c7c7c" stroke-width="0.5"/>
<text x="452.40" y="237.38" font-size="5.1" fill="#000" text-anchor="middle" stroke="#000" stroke-width="0.08">Years from Start of Protocol Therapy</text>
<text x="444.25" y="130.87" font-size="4.45" fill="#000" text-anchor="middle">UARK 98-003 Overall Survival by Number of Risk Factors:</text>
<text x="444.40" y="136.07" font-size="4.45" fill="#000" text-anchor="middle">Cytogenetic Abnormalities Within 3 Mos. of Enrollment and/or</text>
<text x="444.00" y="140.97" font-size="4.45" fill="#000" text-anchor="middle">Lambda Light Chain</text>
<text x="508.90" y="146.57" font-size="4.45" fill="#000" text-anchor="middle">2-Year</text>
<text x="486.70" y="150.82" font-size="4.45" fill="#000" text-anchor="middle">Deaths / N</text>
<text x="509.60" y="150.82" font-size="4.45" fill="#000" text-anchor="middle">Estimate</text>
<text x="437.70" y="155.97" font-size="4.45" fill="#4848c8" text-anchor="start">No Risk Factors</text>
<text x="487.30" y="155.97" font-size="4.45" fill="#4848c8" text-anchor="middle">45 / 58</text>
<text x="510.00" y="155.97" font-size="4.45" fill="#4848c8" text-anchor="middle">67%</text>
<text x="437.70" y="159.87" font-size="4.45" fill="#e06a6a" text-anchor="start">1 Risk Factor</text>
<text x="487.30" y="159.77" font-size="4.45" fill="#e06a6a" text-anchor="middle">56 / 59</text>
<text x="510.00" y="159.77" font-size="4.45" fill="#e06a6a" text-anchor="middle">30%</text>
<text x="437.70" y="163.87" font-size="4.45" fill="#4a9a5a" text-anchor="start">2 Risk Factors</text>
<text x="487.30" y="163.77" font-size="4.45" fill="#4a9a5a" text-anchor="middle">24 / 24</text>
<text x="510.00" y="163.77" font-size="4.45" fill="#4a9a5a" text-anchor="middle">33%</text>
<text x="454.70" y="168.17" font-size="4.45" fill="#000" text-anchor="start">Logrank P-value &lt; .0001</text>
<line x1="372.50" y1="258.80" x2="372.50" y2="338.00" stroke="#9a9a9a" stroke-width="1"/>
<line x1="369.70" y1="337.50" x2="372.50" y2="337.50" stroke="#9a9a9a" stroke-width="0.8"/>
<text x="368.30" y="339.50" font-size="5.0" fill="#000" text-anchor="end">0%</text>
<line x1="371.10" y1="329.63" x2="372.50" y2="329.63" stroke="#9a9a9a" stroke-width="0.6"/>
<line x1="369.70" y1="321.76" x2="372.50" y2="321.76" stroke="#9a9a9a" stroke-width="0.8"/>
<text x="368.30" y="323.76" font-size="5.0" fill="#000" text-anchor="end">20%</text>
<line x1="371.10" y1="313.89" x2="372.50" y2="313.89" stroke="#9a9a9a" stroke-width="0.6"/>
<line x1="369.70" y1="306.02" x2="372.50" y2="306.02" stroke="#9a9a9a" stroke-width="0.8"/>
<text x="368.30" y="308.02" font-size="5.0" fill="#000" text-anchor="end">40%</text>
<line x1="371.10" y1="298.15" x2="372.50" y2="298.15" stroke="#9a9a9a" stroke-width="0.6"/>
<line x1="369.70" y1="290.28" x2="372.50" y2="290.28" stroke="#9a9a9a" stroke-width="0.8"/>
<text x="368.30" y="292.28" font-size="5.0" fill="#000" text-anchor="end">60%</text>
<line x1="371.10" y1="282.41" x2="372.50" y2="282.41" stroke="#9a9a9a" stroke-width="0.6"/>
<line x1="369.70" y1="274.54" x2="372.50" y2="274.54" stroke="#9a9a9a" stroke-width="0.8"/>
<text x="368.30" y="276.54" font-size="5.0" fill="#000" text-anchor="end">80%</text>
<line x1="371.10" y1="266.67" x2="372.50" y2="266.67" stroke="#9a9a9a" stroke-width="0.6"/>
<line x1="369.70" y1="258.80" x2="372.50" y2="258.80" stroke="#9a9a9a" stroke-width="0.8"/>
<text x="368.30" y="260.80" font-size="5.0" fill="#000" text-anchor="end">100%</text>
<line x1="372.00" y1="337.50" x2="515.20" y2="337.50" stroke="#7c7c7c" stroke-width="1"/>
<line x1="372.70" y1="337.50" x2="372.70" y2="339.10" stroke="#7c7c7c" stroke-width="0.7"/>
<text x="372.70" y="344.40" font-size="5.0" fill="#000" text-anchor="middle">0</text>
<line x1="386.95" y1="337.50" x2="386.95" y2="339.10" stroke="#7c7c7c" stroke-width="0.7"/>
<text x="386.95" y="344.40" font-size="5.0" fill="#000" text-anchor="middle">1</text>
<line x1="401.20" y1="337.50" x2="401.20" y2="339.10" stroke="#7c7c7c" stroke-width="0.7"/>
<text x="401.20" y="344.40" font-size="5.0" fill="#000" text-anchor="middle">2</text>
<line x1="415.45" y1="337.50" x2="415.45" y2="339.10" stroke="#7c7c7c" stroke-width="0.7"/>
<text x="415.45" y="344.40" font-size="5.0" fill="#000" text-anchor="middle">3</text>
<line x1="429.70" y1="337.50" x2="429.70" y2="339.10" stroke="#7c7c7c" stroke-width="0.7"/>
<text x="429.70" y="344.40" font-size="5.0" fill="#000" text-anchor="middle">4</text>
<line x1="443.95" y1="337.50" x2="443.95" y2="339.10" stroke="#7c7c7c" stroke-width="0.7"/>
<text x="443.95" y="344.40" font-size="5.0" fill="#000" text-anchor="middle">5</text>
<line x1="458.20" y1="337.50" x2="458.20" y2="339.10" stroke="#7c7c7c" stroke-width="0.7"/>
<text x="458.20" y="344.40" font-size="5.0" fill="#000" text-anchor="middle">6</text>
<line x1="472.45" y1="337.50" x2="472.45" y2="339.10" stroke="#7c7c7c" stroke-width="0.7"/>
<text x="472.45" y="344.40" font-size="5.0" fill="#000" text-anchor="middle">7</text>
<line x1="486.70" y1="337.50" x2="486.70" y2="339.10" stroke="#7c7c7c" stroke-width="0.7"/>
<text x="486.70" y="344.40" font-size="5.0" fill="#000" text-anchor="middle">8</text>
<line x1="500.95" y1="337.50" x2="500.95" y2="339.10" stroke="#7c7c7c" stroke-width="0.7"/>
<text x="500.95" y="344.40" font-size="5.0" fill="#000" text-anchor="middle">9</text>
<line x1="515.20" y1="337.50" x2="515.20" y2="339.10" stroke="#7c7c7c" stroke-width="0.7"/>
<text x="515.20" y="344.40" font-size="5.0" fill="#000" text-anchor="middle">10</text>
<line x1="379.82" y1="337.50" x2="379.82" y2="338.50" stroke="#7c7c7c" stroke-width="0.5"/>
<line x1="394.07" y1="337.50" x2="394.07" y2="338.50" stroke="#7c7c7c" stroke-width="0.5"/>
<line x1="408.32" y1="337.50" x2="408.32" y2="338.50" stroke="#7c7c7c" stroke-width="0.5"/>
<line x1="422.57" y1="337.50" x2="422.57" y2="338.50" stroke="#7c7c7c" stroke-width="0.5"/>
<line x1="436.82" y1="337.50" x2="436.82" y2="338.50" stroke="#7c7c7c" stroke-width="0.5"/>
<line x1="451.07" y1="337.50" x2="451.07" y2="338.50" stroke="#7c7c7c" stroke-width="0.5"/>
<line x1="465.32" y1="337.50" x2="465.32" y2="338.50" stroke="#7c7c7c" stroke-width="0.5"/>
<line x1="479.57" y1="337.50" x2="479.57" y2="338.50" stroke="#7c7c7c" stroke-width="0.5"/>
<line x1="493.82" y1="337.50" x2="493.82" y2="338.50" stroke="#7c7c7c" stroke-width="0.5"/>
<line x1="508.07" y1="337.50" x2="508.07" y2="338.50" stroke="#7c7c7c" stroke-width="0.5"/>
<text x="452.00" y="352.18" font-size="5.1" fill="#000" text-anchor="middle" stroke="#000" stroke-width="0.08">Years from Start of Protocol Therapy</text>
<text x="444.25" y="245.37" font-size="4.45" fill="#000" text-anchor="middle">UARK 98-003 Event-Free Survival by Number of Risk Factors:</text>
<text x="443.55" y="250.27" font-size="4.45" fill="#000" text-anchor="middle">Cytogenetic Abnormalities Within 3 Mos. of Enrollment and/or</text>
<text x="444.00" y="255.17" font-size="4.45" fill="#000" text-anchor="middle">Lambda Light Chain</text>
<text x="509.90" y="262.37" font-size="4.45" fill="#000" text-anchor="middle">2-Year</text>
<text x="487.60" y="266.77" font-size="4.45" fill="#000" text-anchor="middle">Events / N</text>
<text x="510.10" y="266.77" font-size="4.45" fill="#000" text-anchor="middle">Estimate</text>
<text x="437.70" y="270.97" font-size="4.45" fill="#4848c8" text-anchor="start">No Risk Factors</text>
<text x="487.50" y="271.17" font-size="4.45" fill="#4848c8" text-anchor="middle">50 / 58</text>
<text x="510.40" y="271.17" font-size="4.45" fill="#4848c8" text-anchor="middle">30%</text>
<text x="437.70" y="275.17" font-size="4.45" fill="#e06a6a" text-anchor="start">1 Risk Factor</text>
<text x="487.50" y="275.17" font-size="4.45" fill="#e06a6a" text-anchor="middle">58 / 59</text>
<text x="510.40" y="275.17" font-size="4.45" fill="#e06a6a" text-anchor="middle">14%</text>
<text x="437.70" y="279.37" font-size="4.45" fill="#4a9a5a" text-anchor="start">2 Risk Factors</text>
<text x="487.50" y="279.37" font-size="4.45" fill="#4a9a5a" text-anchor="middle">24 / 24</text>
<text x="510.40" y="279.37" font-size="4.45" fill="#4a9a5a" text-anchor="middle">4%</text>
<text x="454.70" y="284.07" font-size="4.45" fill="#000" text-anchor="start">Logrank P-value &lt; .0001</text>
<polyline points="195.5,15.8 196.6,33.4 198.4,47.7 200.1,54.0 201.1,57.0 203.0,60.7 205.5,66.3 209.2,70.7 214.2,75.1 219.2,80.0 222.9,81.9 226.7,83.8 230.4,84.7 236.6,85.2 242.9,86.0 255.0,86.4 256.2,87.2 265.0,87.5 280.0,88.2 305.8,88.5 308.6,88.8 309.0,94.0" fill="none" stroke="#cf7474" stroke-width="1.05" stroke-linejoin="round"/>
<polyline points="195.5,15.8 197.8,22.1 200.1,27.5 201.3,32.2 203.7,37.0 206.1,42.4 207.9,45.9 210.9,48.9 213.2,53.7 216.7,55.7 219.8,60.1 222.9,61.0 226.7,63.8 230.4,68.2 234.1,70.1 239.1,72.0 242.9,73.4 245.0,74.2 250.0,75.9 253.7,77.6 256.2,78.8 263.7,79.7 271.2,80.9 278.7,81.9 283.6,83.2 289.6,83.6 290.8,84.5 304.6,84.8 309.2,86.0 311.5,87.7 313.3,89.4 318.4,89.4" fill="none" stroke="#5a5ac2" stroke-width="1.05" stroke-linejoin="round"/>
<polyline points="16.6,138.4 19.0,145.0 20.9,156.2 23.4,162.4 25.8,168.7 27.7,174.9 29.0,178.1 32.7,179.4 34.6,183.1 38.3,186.2 40.8,190.0 43.3,193.1 47.7,194.0 50.8,195.2 53.9,195.6 55.1,200.6 73.1,200.6 74.3,201.8 84.9,202.4 86.2,203.4 93.7,203.9 95.5,204.9 102.4,205.3 103.6,206.2 116.5,206.3 118.3,209.2 126.3,209.5 128.1,212.1 152.3,212.1 153.4,214.4" fill="none" stroke="#cf7474" stroke-width="1.05" stroke-linejoin="round"/>
<polyline points="16.6,138.4 20.2,144.4 22.7,147.5 25.8,152.5 29.0,155.6 32.7,158.7 34.6,163.1 38.9,166.2 42.7,169.3 46.4,170.5 50.2,173.7 51.4,175.0 53.3,178.6 53.9,180.0 57.6,181.2 60.0,182.5 62.5,184.4 65.6,187.5 70.0,189.3 73.7,191.2 78.7,194.3 83.7,196.2 86.2,198.1 94.9,198.7 101.1,199.9 105.0,200.0 110.8,201.1 115.4,202.3 124.6,202.9 128.1,203.7 137.3,204.0 143.1,204.6 146.5,205.8 149.4,206.3 149.4,212.1 152.3,212.1 160.4,211.3" fill="none" stroke="#5a5ac2" stroke-width="1.05" stroke-linejoin="round"/>
<polyline points="16.6,258.9 17.7,263.7 19.0,268.7 20.0,276.8 20.9,281.2 22.1,286.2 24.0,289.9 25.2,294.9 26.5,302.5 28.3,307.5 30.8,310.0 34.0,310.6 37.1,313.7 37.7,316.2 42.1,316.8 44.5,321.2 47.0,324.3 50.8,324.9 53.3,331.2 57.0,331.4 58.9,333.0 68.1,333.4 68.7,335.2 92.3,335.5 92.9,337.0" fill="none" stroke="#cf7474" stroke-width="1.05" stroke-linejoin="round"/>
<polyline points="16.6,258.9 18.4,265.0 19.2,271.2 20.9,273.7 22.7,276.2 24.6,281.2 26.5,284.9 29.0,286.8 30.8,289.9 32.7,293.0 35.2,295.5 37.7,298.6 40.2,301.2 43.3,303.7 44.5,307.5 48.3,310.0 51.4,312.5 55.1,314.3 68.1,315.0 68.7,315.9 73.3,316.1 74.4,318.2 107.3,318.5 108.4,320.2 124.8,320.5 126.0,321.3 142.1,321.3 143.3,322.5 155.4,322.8 156.5,323.8 164.2,323.8" fill="none" stroke="#5a5ac2" stroke-width="1.05" stroke-linejoin="round"/>
<line x1="164.2" y1="323.8" x2="164.2" y2="337.5" stroke="#8888b8" stroke-width="0.8"/>
<polyline points="195.2,138.6 196.1,147.5 197.4,150.6 199.9,152.5 201.1,156.8 202.4,163.1 204.8,166.2 206.7,169.3 209.2,174.3 211.7,179.4 214.8,184.4 217.3,189.3 220.4,193.7 223.5,196.2 227.3,196.8 230.4,199.3 232.9,201.8 236.0,205.5 242.9,206.2 246.8,207.6 250.2,209.3 255.3,210.2 258.7,211.9 263.8,213.6 269.8,214.4 290.0,215.2 308.5,215.2 309.0,217.0" fill="none" stroke="#cf7474" stroke-width="1.05" stroke-linejoin="round"/>
<polyline points="195.2,138.6 198.6,138.7 200.5,141.9 203.0,146.2 204.8,150.0 206.7,153.7 210.5,158.1 215.4,158.7 217.3,160.6 221.7,161.2 223.5,167.4 229.2,168.7 231.7,171.2 235.4,174.9 239.1,177.4 242.9,179.5 245.1,180.4 251.9,183.0 258.7,184.7 263.8,187.2 268.9,189.8 276.6,190.3 280.8,191.5 287.6,193.2 290.0,193.6 295.8,194.8 299.2,197.1 307.3,198.2 312.5,199.4 326.9,199.4 329.8,200.5 331.5,200.8 332.1,203.6 334.4,204.2 335.6,208.3 341.9,208.3" fill="none" stroke="#5a5ac2" stroke-width="1.05" stroke-linejoin="round"/>
<polyline points="195.2,258.8 195.7,270.0 196.7,279.9 197.7,286.2 198.6,293.5 199.9,298.6 201.1,301.2 203.6,308.7 205.5,313.7 207.3,319.9 210.5,323.1 213.0,326.8 216.1,329.3 219.8,331.8 222.3,333.0 223.5,335.5 226.7,336.1 242.9,336.4 251.5,336.7" fill="none" stroke="#cf7474" stroke-width="1.05" stroke-linejoin="round"/>
<polyline points="195.2,258.8 195.7,267.5 196.5,277.4 198.0,281.8 199.9,284.9 201.1,289.9 201.7,293.7 204.2,295.5 206.7,297.5 208.0,298.6 210.5,300.0 214.2,301.9 216.1,303.7 218.6,306.2 221.7,306.8 223.5,310.6 226.7,313.7 229.2,315.0 231.0,317.4 234.1,319.3 236.6,320.6 244.6,320.8 245.8,322.5 250.4,323.1 251.5,323.9 266.0,323.9 267.7,324.6 279.8,324.8 281.0,325.6 296.3,326.0 297.5,326.8 311.3,326.8 312.5,327.5 331.3,327.3" fill="none" stroke="#5a5ac2" stroke-width="1.05" stroke-linejoin="round"/>
<line x1="331.3" y1="327.3" x2="331.3" y2="337.5" stroke="#8888b8" stroke-width="0.8"/>
<polyline points="372.7,144.0 373.4,148.5 375.1,151.9 377.4,153.6 378.5,158.7 379.6,163.8 380.8,168.9 383.0,170.0 384.2,172.9 385.3,177.4 386.2,182.4 393.7,182.5 394.3,185.0 395.6,186.2 396.2,190.0 397.4,191.8 397.4,195.6 405.5,196.0 406.8,199.3 408.0,202.4 409.9,203.1 411.1,207.4 412.4,212.4 423.2,212.4 425.0,215.3 431.3,215.3 433.1,218.9 484.9,218.9 487.2,222.0" fill="none" stroke="#5f9a6e" stroke-width="1.05" stroke-linejoin="round"/>
<polyline points="372.7,144.0 375.1,146.2 377.9,149.6 380.2,154.2 382.5,157.6 385.3,161.5 387.6,165.5 389.8,169.5 391.5,174.0 393.2,178.5 394.3,180.5 394.9,184.4 396.8,186.2 399.3,188.7 401.2,191.2 404.3,191.8 407.4,193.1 409.9,194.3 411.8,195.6 413.6,198.7 416.8,200.6 420.4,202.6 425.9,205.3 431.3,208.0 436.7,209.8 440.4,212.5 443.1,214.3 444.9,217.1 484.9,217.4 486.4,218.9 487.9,220.1 504.7,219.9" fill="none" stroke="#cf7474" stroke-width="1.05" stroke-linejoin="round"/>
<polyline points="372.7,144.0 375.7,144.5 378.5,146.8 380.8,149.6 381.9,150.8 383.0,154.7 384.7,158.7 388.1,162.7 391.5,163.8 396.1,164.4 398.3,165.5 401.2,169.5 404.0,170.0 406.8,171.2 410.0,174.0 413.6,177.4 415.0,178.1 419.9,179.9 425.9,182.6 433.1,184.5 440.4,186.3 444.9,188.1 453.0,189.0 454.9,190.8 460.3,191.7 462.1,193.5 465.0,193.7 468.8,194.1 469.6,194.9 473.4,195.2 474.9,196.7 477.2,198.3 478.0,199.0 489.4,199.3 491.0,200.6 504.7,200.6 507.0,201.8 509.3,202.1 510.1,205.9 511.6,206.4 512.4,211.0 520.0,211.0" fill="none" stroke="#5a5ac2" stroke-width="1.05" stroke-linejoin="round"/>
<polyline points="372.7,258.8 373.1,271.2 373.5,279.9 373.8,285.7 374.8,291.3 376.0,297.0 377.1,303.0 378.2,307.0 379.4,312.0 380.5,316.5 382.2,320.4 383.3,324.4 385.0,327.2 391.8,327.8 392.4,330.6 400.9,331.2 401.5,334.0 404.9,334.6 405.4,336.8" fill="none" stroke="#5f9a6e" stroke-width="1.05" stroke-linejoin="round"/>
<polyline points="372.7,258.8 373.1,268.7 374.4,276.2 375.2,281.5 377.1,286.8 378.8,291.3 380.5,295.9 382.4,300.2 384.7,304.5 386.6,308.4 388.6,311.5 390.5,315.0 393.0,318.1 396.4,321.0 399.2,323.8 401.5,326.6 404.9,328.9 407.7,330.6 412.0,331.5 422.1,332.1 424.2,333.6 428.4,335.0 444.7,335.3 445.4,336.7 506.0,336.7" fill="none" stroke="#cf7474" stroke-width="1.05" stroke-linejoin="round"/>
<polyline points="372.7,258.8 373.1,267.5 374.0,273.7 375.0,278.7 376.9,284.9 379.4,289.9 382.5,292.4 385.6,295.5 387.5,298.1 391.2,300.6 394.3,303.1 396.8,305.6 399.9,306.8 401.8,310.0 404.9,312.5 407.4,313.7 409.3,316.2 411.8,318.4 422.1,319.0 423.5,320.0 426.3,320.4 428.4,321.4 457.4,321.4 458.8,322.5 474.2,322.8 475.6,324.3 489.1,324.3 490.5,325.2 509.6,325.1" fill="none" stroke="#5a5ac2" stroke-width="1.05" stroke-linejoin="round"/>
<line x1="509.6" y1="325.1" x2="509.6" y2="337.5" stroke="#8888b8" stroke-width="0.8"/>
<polyline points="305.3,84.7 306.5,84.9 308.6,85.6" fill="none" stroke="#34347e" stroke-width="1.5" stroke-linejoin="round" stroke-linecap="round"/>
<polyline points="309.8,87.0 310.2,87.4" fill="none" stroke="#34347e" stroke-width="1.1" stroke-linejoin="round" stroke-linecap="round"/>
<polyline points="311.4,87.5 311.8,87.9" fill="none" stroke="#34347e" stroke-width="1.1" stroke-linejoin="round" stroke-linecap="round"/>
<polyline points="312.6,88.8 312.9,89.2" fill="none" stroke="#34347e" stroke-width="1.1" stroke-linejoin="round" stroke-linecap="round"/>
<polyline points="305.2,88.4 307.6,88.6" fill="none" stroke="#8a4448" stroke-width="1.2" stroke-linejoin="round" stroke-linecap="round"/>
<polyline points="145.4,203.9 147.0,205.3 149.2,206.1" fill="none" stroke="#34347e" stroke-width="1.5" stroke-linejoin="round" stroke-linecap="round"/>
<polyline points="159.3,323.5 163.4,323.6" fill="none" stroke="#34347e" stroke-width="1.3" stroke-linejoin="round" stroke-linecap="round"/>
<polyline points="327.3,199.0 328.6,200.0 330.9,200.6" fill="none" stroke="#34347e" stroke-width="1.5" stroke-linejoin="round" stroke-linecap="round"/>
<polyline points="331.6,203.6 332.0,203.9" fill="none" stroke="#34347e" stroke-width="1.1" stroke-linejoin="round" stroke-linecap="round"/>
<polyline points="334.6,204.2 335.0,204.6" fill="none" stroke="#34347e" stroke-width="1.1" stroke-linejoin="round" stroke-linecap="round"/>
<polyline points="327.2,327.0 331.0,327.1" fill="none" stroke="#34347e" stroke-width="1.5" stroke-linejoin="round" stroke-linecap="round"/>
<polyline points="505.0,200.0 506.5,201.0 508.6,201.8" fill="none" stroke="#34347e" stroke-width="1.5" stroke-linejoin="round" stroke-linecap="round"/>
<polyline points="509.6,205.8 510.0,206.2" fill="none" stroke="#34347e" stroke-width="1.1" stroke-linejoin="round" stroke-linecap="round"/>
<polyline points="511.8,206.3 512.2,206.6" fill="none" stroke="#34347e" stroke-width="1.1" stroke-linejoin="round" stroke-linecap="round"/>
<polyline points="505.2,324.9 509.0,325.0" fill="none" stroke="#34347e" stroke-width="1.6" stroke-linejoin="round" stroke-linecap="round"/>
</svg></div>
</body></html>
